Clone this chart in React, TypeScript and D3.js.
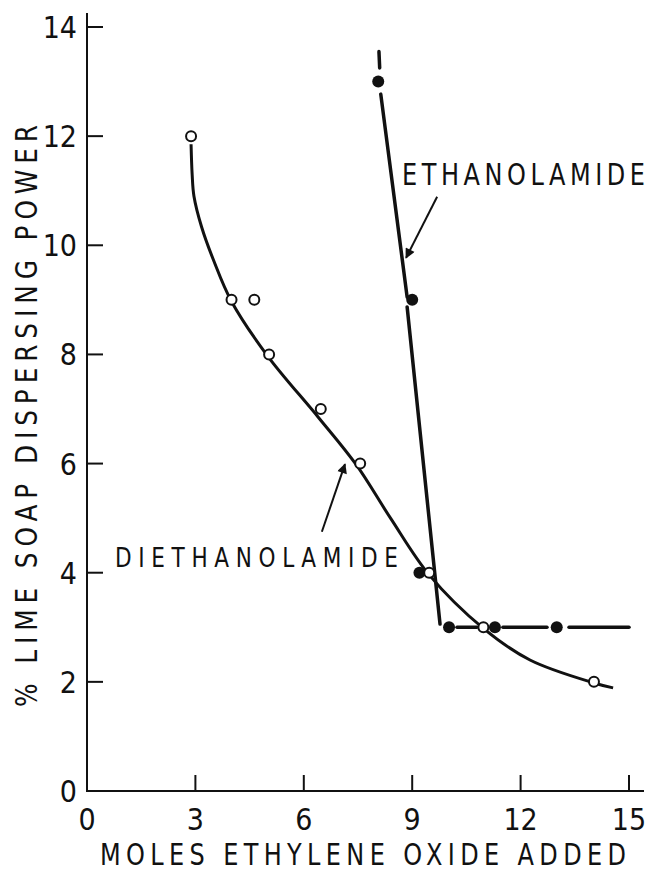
import React, { useEffect, useRef } from "react";
import * as d3 from "d3";

// measured points
const dieX = [2.88, 4.0, 4.63, 5.04, 6.47, 7.56, 9.47, 10.97, 14.03];
const dieY = [12, 9, 9, 8, 7, 6, 4, 3, 2];
const ethX = [8.06, 9.0, 9.2, 10.02, 11.29, 13.0];
const ethY = [13, 9, 4, 3, 3, 3];

// hand-drawn fitted curves
const dieCurveX = [2.88, 2.91, 2.96, 3.17, 3.5, 4.0, 5.0, 6.4, 7.45, 8.4, 9.47, 10.97, 12.26, 14.03, 14.56];
const dieCurveY = [11.85, 11.3, 10.9, 10.34, 9.73, 8.97, 7.97, 6.85, 5.98, 5.0, 3.96, 2.98, 2.4, 1.98, 1.89];
const ethSegX = [
  [8.08, 8.1],
  [8.13, 8.86],
  [8.86, 9.77],
  [10.24, 10.79],
  [11.51, 12.73],
  [13.34, 15.0],
];
const ethSegY = [
  [13.55, 13.25],
  [12.77, 9.05],
  [8.87, 3.06],
  [3, 3],
  [3, 3],
  [3, 3],
];

const xTicks = [0, 3, 6, 9, 12, 15];
const yTicks = [0, 2, 4, 6, 8, 10, 12, 14];

const FONT = "'DejaVu Sans', sans-serif";
const SQ = 0.8; // horizontal squeeze for the lettering

const App = () => {
  const ref = useRef<SVGSVGElement>(null);

  useEffect(() => {
    document.body.style.margin = "0";
    const svg = d3.select(ref.current);
    svg.selectAll("*").remove();

    const x = d3.scaleLinear().domain([0, 15]).range([87, 629]);
    const y = d3.scaleLinear().domain([0, 14]).range([791, 27]);

    svg
      .append("defs")
      .append("marker")
      .attr("id", "arr")
      .attr("viewBox", "0 0 10 10")
      .attr("refX", 9)
      .attr("refY", 5)
      .attr("markerWidth", 14)
      .attr("markerHeight", 10)
      .attr("markerUnits", "userSpaceOnUse")
      .attr("orient", "auto")
      .append("path")
      .attr("d", "M0,0 L10,5 L0,10 Z")
      .attr("fill", "#111");

    // axes
    svg.append("line").attr("x1", x(0)).attr("x2", x(0)).attr("y1", 13).attr("y2", y(0) + 1).attr("stroke", "#111").attr("stroke-width", 2);
    svg.append("line").attr("x1", x(0) - 1).attr("x2", 644).attr("y1", y(0)).attr("y2", y(0)).attr("stroke", "#111").attr("stroke-width", 2);

    svg
      .selectAll(".yt")
      .data(yTicks.filter((d) => d > 0))
      .enter()
      .append("line")
      .attr("x1", x(0))
      .attr("x2", x(0) + 16)
      .attr("y1", (d) => y(d))
      .attr("y2", (d) => y(d))
      .attr("stroke", "#111")
      .attr("stroke-width", 2);

    svg
      .selectAll(".xt")
      .data(xTicks.filter((d) => d > 0))
      .enter()
      .append("line")
      .attr("x1", (d) => x(d))
      .attr("x2", (d) => x(d))
      .attr("y1", y(0))
      .attr("y2", y(0) - 16)
      .attr("stroke", "#111")
      .attr("stroke-width", 2);

    svg
      .selectAll(".yl")
      .data(yTicks)
      .enter()
      .append("text")
      .attr("transform", (d) => `translate(77,${y(d) + 11}) scale(0.9,1)`)
      .attr("text-anchor", "end")
      .style("font-family", FONT)
      .style("font-size", "30px")
      .attr("fill", "#111")
      .text((d) => d);

    svg
      .selectAll(".xl")
      .data(xTicks)
      .enter()
      .append("text")
      .attr("transform", (d) => `translate(${x(d)},830) scale(0.9,1)`)
      .attr("text-anchor", "middle")
      .style("font-family", FONT)
      .style("font-size", "30px")
      .attr("fill", "#111")
      .text((d) => d);

    const label = (txt, tx, ty, len, size, rot = 0) =>
      svg
        .append("text")
        .attr("transform", `translate(${tx},${ty}) rotate(${rot}) scale(${SQ},1)`)
        .attr("textLength", len / SQ)
        .attr("lengthAdjust", "spacing")
        .style("font-family", FONT)
        .style("font-size", `${size}px`)
        .attr("fill", "#111")
        .text(txt);

    // axis titles
    label("MOLES ETHYLENE OXIDE ADDED", 100, 865, 526, 30);
    label("% LIME SOAP DISPERSING POWER", 37, 707, 582, 31, -90);

    // curves
    const dieLine = d3
      .line<number>()
      .x((d, i) => x(dieCurveX[i]))
      .y((d, i) => y(dieCurveY[i]))
      .curve(d3.curveCatmullRom.alpha(0.5));
    svg
      .append("path")
      .attr("d", dieLine(dieCurveX))
      .attr("fill", "none")
      .attr("stroke", "#111")
      .attr("stroke-width", 3);

    ethSegX.forEach((seg, k) => {
      const ln = d3
        .line<number>()
        .x((d) => x(d))
        .y((d, i) => y(ethSegY[k][i]));
      svg
        .append("path")
        .attr("d", ln(seg))
        .attr("fill", "none")
        .attr("stroke", "#111")
        .attr("stroke-width", 3.5)
        .attr("stroke-linecap", "round");
    });

    // points
    svg
      .selectAll(".eth")
      .data(ethX)
      .enter()
      .append("circle")
      .attr("cx", (d) => x(d))
      .attr("cy", (d, i) => y(ethY[i]))
      .attr("r", 6)
      .attr("fill", "#111");

    svg
      .selectAll(".die")
      .data(dieX)
      .enter()
      .append("circle")
      .attr("cx", (d) => x(d))
      .attr("cy", (d, i) => y(dieY[i]))
      .attr("r", 5)
      .attr("fill", "#fff")
      .attr("stroke", "#111")
      .attr("stroke-width", 2);

    // labels
    label("ETHANOLAMIDE", 402, 185, 243, 30);
    label("DIETHANOLAMIDE", 115, 567, 283, 27);

    svg
      .append("line")
      .attr("x1", x(9.69))
      .attr("y1", y(10.89))
      .attr("x2", x(8.83))
      .attr("y2", y(9.77))
      .attr("stroke", "#111")
      .attr("stroke-width", 2)
      .attr("marker-end", "url(#arr)");

    svg
      .append("line")
      .attr("x1", x(6.5))
      .attr("y1", y(4.75))
      .attr("x2", x(7.14))
      .attr("y2", y(5.99))
      .attr("stroke", "#111")
      .attr("stroke-width", 2)
      .attr("marker-end", "url(#arr)");
  }, []);

  return <svg ref={ref} width={650} height={873} style={{ display: "block", background: "#fff" }}></svg>;
};

export default App;
